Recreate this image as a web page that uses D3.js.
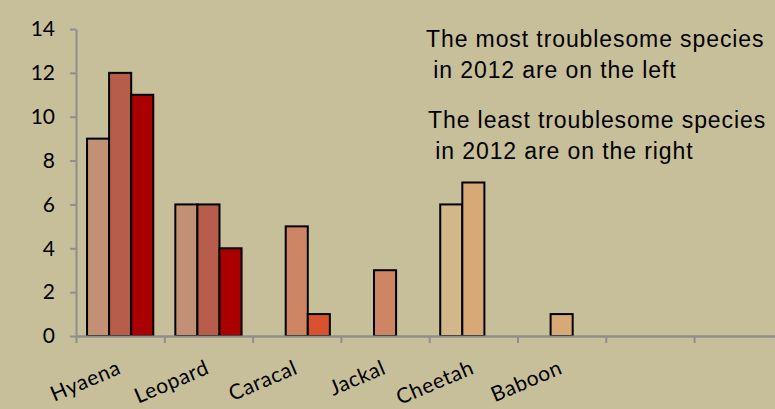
<!DOCTYPE html>
<html>
<head>
<meta charset="utf-8">
<script src="https://cdn.jsdelivr.net/npm/d3@7"></script>
<style>
  html, body { margin: 0; padding: 0; background: #C7BF9A; }
  svg { display: block; }
</style>
</head>
<body>
<svg id="chart" width="775" height="409"></svg>
<script>
// ---- data ----
const categories = ["Hyaena", "Leopard", "Caracal", "Jackal", "Cheetah", "Baboon", "", ""];
const seriesA = [9, 6, null, null, 6, null, null, null];
const seriesB = [12, 6, 5, 3, 7, 1, null, null];
const seriesC = [11, 4, 1, null, null, null, null, null];
const yTicks = [0, 2, 4, 6, 8, 10, 12, 14];
const notes = [
  "The most troublesome species",
  " in 2012 are on the left",
  "The least troublesome species",
  " in 2012 are on the right"
];

// ---- styles ----
const colorsA = ["#C29175", "#C29175", null, null, "#D2B789", null, null, null];
const colorsB = ["#B65E4B", "#B65E4B", "#CD8563", "#CD8563", "#D6A977", "#D6A977", null, null];
const colorsC = ["#AA0000", "#AA0000", "#D9522F", null, null, null, null, null];
const axisColor = "#8E8E8E";

const svg = d3.select("#chart");
svg.append("rect").attr("width", 775).attr("height", 409).attr("fill", "#C7BF9A");

const left = 76, bandW = 88.3, y0 = 336, yTop = 29;
const x = d3.scaleBand().domain(d3.range(categories.length))
  .range([left, left + bandW * categories.length]).padding(0);
const xEdge = d3.scaleLinear().domain([0, categories.length])
  .range([left, left + bandW * categories.length]);
const slot = d3.scaleBand().domain([0, 1, 2]).range([0, x.bandwidth()])
  .paddingInner(0).paddingOuter(0.5);
const y = d3.scaleLinear().domain([0, 14]).range([y0, yTop]);

// y axis
const yAxis = svg.append("g").attr("transform", `translate(${left},0)`)
  .call(d3.axisLeft(y).tickValues(yTicks).tickSize(6).tickSizeOuter(0).tickPadding(15));
yAxis.select(".domain").attr("stroke", axisColor).attr("stroke-width", 2);
yAxis.selectAll(".tick line").attr("stroke", axisColor).attr("stroke-width", 2);
yAxis.selectAll(".tick text").attr("fill", "#000")
  .style("font-family", "Lato, 'Open Sans', sans-serif").style("font-size", "21px");

// x axis (ticks at category boundaries)
const xAxis = svg.append("g").attr("transform", `translate(0,${y0})`)
  .call(d3.axisBottom(xEdge).tickValues(d3.range(categories.length + 1))
    .tickFormat("").tickSize(7).tickSizeOuter(0));
xAxis.select(".domain").attr("stroke", axisColor).attr("stroke-width", 2);
xAxis.selectAll(".tick line").attr("stroke", axisColor).attr("stroke-width", 2);

// bars
const allSeries = [
  { vals: seriesA, cols: colorsA },
  { vals: seriesB, cols: colorsB },
  { vals: seriesC, cols: colorsC }
];
allSeries.forEach((s, si) => {
  const data = s.vals.map((v, i) => ({ v, i, c: s.cols[i] })).filter(d => d.v != null);
  svg.append("g").selectAll("rect").data(data).join("rect")
    .attr("x", d => x(d.i) + slot(si))
    .attr("y", d => y(d.v))
    .attr("width", slot.bandwidth())
    .attr("height", d => y(0) - y(d.v))
    .attr("fill", d => d.c)
    .attr("stroke", "#000")
    .attr("stroke-width", 2);
});

// redraw x axis line on top
svg.append("line").attr("x1", left).attr("x2", 775).attr("y1", y0 + 0.5).attr("y2", y0 + 0.5)
  .attr("stroke", axisColor).attr("stroke-width", 2);

// category labels
svg.append("g").selectAll("text").data(categories.map((c, i) => ({ c, i })).filter(d => d.c))
  .join("text")
  .attr("transform", d => `translate(${x(d.i) + x.bandwidth() / 2 + 2},373) rotate(-23)`)
  .attr("text-anchor", "end")
  .style("font-family", "Lato, 'Open Sans', sans-serif")
  .style("font-size", "21px")
  .style("letter-spacing", "0.6px")
  .attr("fill", "#000")
  .text(d => d.c);

// notes
const noteX = [426, 426, 428, 428];
const noteY = [47, 78, 128, 159];
svg.append("g").selectAll("text").data(notes).join("text")
  .attr("x", (d, i) => noteX[i]).attr("y", (d, i) => noteY[i])
  .attr("xml:space", "preserve")
  .style("white-space", "pre")
  .style("font-family", "'Liberation Sans', Arial, sans-serif")
  .style("font-size", "23px")
  .style("letter-spacing", "0.9px")
  .attr("fill", "#000")
  .text(d => d);
</script>
</body>
</html>
